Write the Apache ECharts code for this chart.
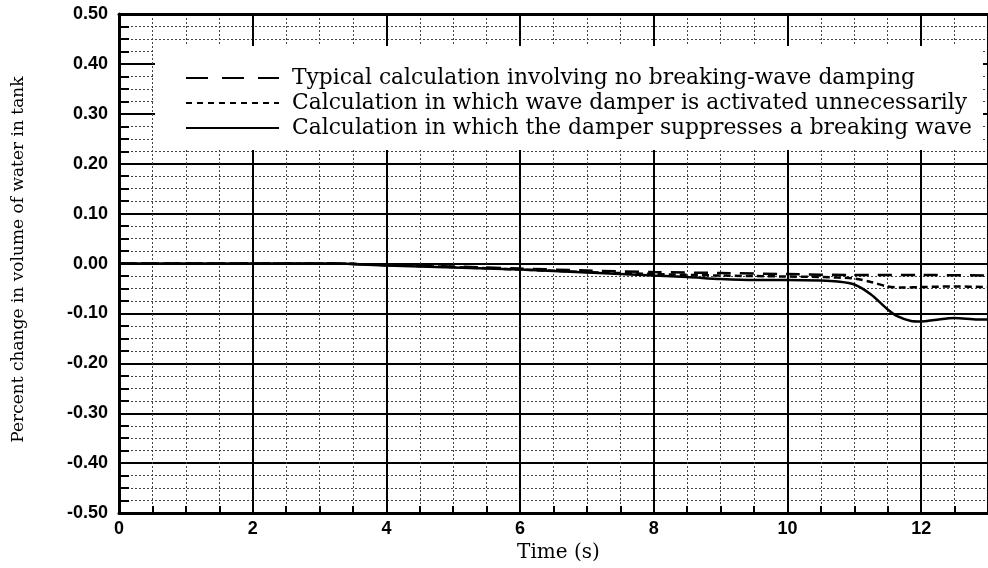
<!DOCTYPE html>
<html>
<head>
<meta charset="utf-8">
<script src="https://cdn.jsdelivr.net/npm/echarts@6/dist/echarts.min.js"></script>
<style>
  html, body { margin: 0; padding: 0; background: #fff; }
  #chart { width: 988px; height: 568px; }
</style>
</head>
<body>
<div id="chart"></div>
<script>
// Time (s) at which each curve is sampled
const timeTypical = [0, 1, 2, 3, 3.2, 4, 5, 6, 7, 8, 9, 10, 11, 12, 13];
const volTypical  = [0, 0, 0, 0, 0, -0.003, -0.006, -0.010, -0.014, -0.017, -0.019, -0.021, -0.023, -0.023, -0.024];

const timeUnneeded = [0, 1, 2, 3, 3.2, 4, 5, 6, 7, 8, 9, 10, 10.5, 11, 11.25, 11.5, 11.75, 12, 12.5, 13];
const volUnneeded  = [0, 0, 0, 0, 0, -0.003, -0.007, -0.012, -0.017, -0.021, -0.024, -0.026, -0.027, -0.030, -0.037, -0.046, -0.048, -0.047, -0.046, -0.047];

const timeSuppress = [0, 1, 2, 3, 3.2, 4, 5, 6, 7, 7.5, 8, 8.5, 9, 9.5, 10, 10.5, 10.75, 11, 11.25, 11.5, 11.65, 11.85, 12, 12.2, 12.5, 12.85, 13];
const volSuppress  = [0, 0, 0, 0, 0, -0.004, -0.008, -0.012, -0.018, -0.021, -0.024, -0.027, -0.031, -0.033, -0.033, -0.034, -0.036, -0.042, -0.062, -0.092, -0.106, -0.115, -0.116, -0.113, -0.109, -0.112, -0.112];

const seriesNames = [
  'Typical calculation involving no breaking-wave damping',
  'Calculation in which wave damper is activated unnecessarily',
  'Calculation in which the damper suppresses a breaking wave'
];

const xTickValues = [0, 2, 4, 6, 8, 10, 12];

function pairs(xs, ys) {
  return xs.map((x, i) => [x, ys[i]]);
}

const chart = echarts.init(document.getElementById('chart'), null, { renderer: 'canvas' });

const sans = 'Liberation Sans, Arial, sans-serif';
const serif = 'DejaVu Serif, Liberation Serif, serif';

chart.setOption({
  animation: false,
  backgroundColor: '#fff',
  grid: { left: 119, top: 14, right: -9, bottom: 48, containLabel: false },
  // white panel behind the key, covering the grid
  graphic: [{
    type: 'rect',
    z: 50,
    shape: { x: 155, y: 46, width: 828, height: 104 },
    style: { fill: '#fff' }
  }],
  legend: {
    z: 60,
    orient: 'vertical',
    left: 180,
    top: 62,
    itemWidth: 93,
    itemHeight: 14,
    itemGap: 3,
    selectedMode: false,
    itemStyle: { color: 'rgba(0,0,0,0)', borderWidth: 0, opacity: 0 },
    textStyle: { fontFamily: serif, fontSize: 21.8, color: '#000', lineHeight: 22, padding: [0, 0, 0, 8] },
    data: [
      { name: seriesNames[0], lineStyle: { type: [22, 14], width: 2, opacity: 1 } },
      { name: seriesNames[1], lineStyle: { type: [6, 5], width: 2, opacity: 1 } },
      { name: seriesNames[2], lineStyle: { type: 'solid', width: 2, opacity: 1 } }
    ]
  },
  xAxis: [{
    type: 'value',
    min: 0,
    max: 13,
    interval: 2,
    name: 'Time (s)',
    nameLocation: 'middle',
    nameGap: 25,
    nameTextStyle: { fontFamily: serif, fontSize: 20, color: '#000', padding: [0, 0, 0, 10] },
    axisLine: { show: true, onZero: false, lineStyle: { color: '#000', width: 3 } },
    axisTick: { show: true, inside: true, length: 8, lineStyle: { color: '#000', width: 2 } },
    minorTick: { show: true, splitNumber: 4, length: 7, lineStyle: { color: '#000', width: 2 } },
    axisLabel: {
      color: '#000', fontFamily: sans, fontWeight: 'bold', fontSize: 18,
      margin: 7,
      showMaxLabel: false,
      formatter: v => (xTickValues.indexOf(v) >= 0 ? String(v) : '')
    },
    splitLine: { show: true, lineStyle: { color: '#000', width: 2 } },
    minorSplitLine: { show: true, lineStyle: { color: '#444', width: 1, type: [2, 2] } }
  }, {
    type: 'value',
    position: 'top',
    min: 0,
    max: 13,
    interval: 2,
    axisLine: { show: true, onZero: false, lineStyle: { color: '#000', width: 3 } },
    axisTick: { show: false },
    axisLabel: { show: false },
    splitLine: { show: false }
  }],
  yAxis: {
    type: 'value',
    min: -0.5,
    max: 0.5,
    interval: 0.1,
    name: 'Percent change in volume of water in tank',
    nameLocation: 'middle',
    nameGap: 92,
    nameRotate: 90,
    nameTextStyle: { fontFamily: serif, fontSize: 17, color: '#000', padding: [0, 0, 0, 8] },
    axisLine: { show: true, onZero: false, lineStyle: { color: '#000', width: 3 } },
    axisTick: { show: true, inside: true, length: 10, lineStyle: { color: '#000', width: 2 } },
    minorTick: { show: true, splitNumber: 4, length: 10, lineStyle: { color: '#000', width: 2 } },
    axisLabel: {
      color: '#000', fontFamily: sans, fontWeight: 'bold', fontSize: 18,
      margin: 11, padding: [8, 0, 0, 0],
      formatter: v => v.toFixed(2)
    },
    splitLine: { show: true, lineStyle: { color: '#000', width: 2 } },
    minorSplitLine: { show: true, lineStyle: { color: '#444', width: 1, type: [2, 2] } }
  },
  series: [
    {
      name: seriesNames[0], type: 'line', showSymbol: false, symbol: 'none', smooth: 0.3,
      data: pairs(timeTypical, volTypical), z: 3,
      lineStyle: { color: '#000', width: 2.5, type: [14, 9] }, itemStyle: { color: '#000' }
    },
    {
      name: seriesNames[1], type: 'line', showSymbol: false, symbol: 'none', smooth: 0.3,
      data: pairs(timeUnneeded, volUnneeded), z: 3,
      lineStyle: { color: '#000', width: 2.5, type: [7, 4] }, itemStyle: { color: '#000' }
    },
    {
      name: seriesNames[2], type: 'line', showSymbol: false, symbol: 'none', smooth: 0.3,
      data: pairs(timeSuppress, volSuppress), z: 3,
      lineStyle: { color: '#000', width: 2.5, type: 'solid' }, itemStyle: { color: '#000' }
    }
  ]
});
</script>
</body>
</html>
